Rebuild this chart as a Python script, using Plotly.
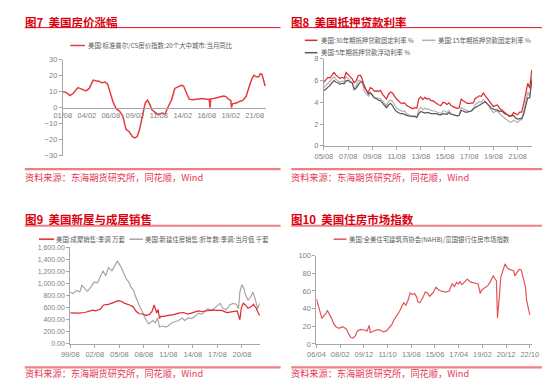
import plotly.graph_objects as go
import pandas as pd

W, H = 550, 379

# ---------------- Panel 1: Case-Shiller 20-city YoY ----------------
cs_dates = ["2001-08", "2001-12", "2002-05", "2002-09", "2003-03", "2003-09", "2004-01", "2004-05",
            "2004-10", "2005-01", "2005-05", "2005-09", "2006-01", "2006-04", "2006-07", "2006-11",
            "2007-03", "2007-07", "2007-11", "2008-03", "2008-07", "2008-11", "2009-02", "2009-05",
            "2009-08", "2009-11", "2010-03", "2010-06", "2010-09", "2010-11", "2011-04", "2011-07",
            "2011-12", "2012-04", "2012-07", "2012-12", "2013-04", "2013-07", "2013-12", "2014-03",
            "2014-06", "2014-10", "2015-02", "2015-08", "2016-02", "2016-08", "2016-11", "2016-12",
            "2017-01", "2017-06", "2018-01", "2018-05", "2018-08", "2018-11", "2019-02", "2019-03",
            "2019-04", "2019-09", "2020-01", "2020-05", "2020-09", "2021-01", "2021-04", "2021-07",
            "2021-10", "2022-01", "2022-03", "2022-05", "2022-07", "2022-09"]
cs_yoy = [10.0, 9.5, 7.5, 9.0, 12.5, 11.0, 10.5, 12.0,
          17.2, 16.8, 16.5, 15.5, 16.0, 14.7, 10.0, 3.3,
          -0.8, -2.2, -5.3, -13.5, -15.0, -18.0, -18.8, -18.0,
          -13.5, -5.3, 2.9, 4.7, 1.8, -1.2, -3.3, -4.3,
          -3.3, -3.9, -0.2, 4.9, 12.0, 12.7, 14.0, 13.5,
          10.0, 5.3, 4.9, 5.3, 5.7, 5.3, 5.3, 0.0,
          5.5, 5.9, 6.5, 7.3, 6.9, 5.3, 4.5, 0.0,
          2.4, 2.9, 3.9, 4.5, 6.9, 13.0, 17.6, 20.2,
          19.2, 19.2, 21.2, 20.8, 17.2, 13.5]
cs_ticks = ["2001-08-01", "2004-02-01", "2006-08-01", "2009-02-01", "2011-08-01",
            "2014-02-01", "2016-08-01", "2019-02-01", "2021-08-01"]

# ---------------- Panel 2: mortgage rates (bi-monthly) ----------------
mort_dates = pd.date_range("2005-08-01", "2022-10-01", freq="2MS")
mort_30y = [5.85, 6.05, 6.3,
            6.25, 6.55, 6.75, 6.5, 6.35, 6.2,
            6.3, 6.2, 6.75, 6.55, 6.4, 6.15,
            5.8, 6.0, 6.45, 6.5, 6.15, 5.4,
            5.1, 4.9, 5.35, 5.25, 5.0, 5.05,
            5.0, 5.1, 4.75, 4.5, 4.3, 4.75,
            4.95, 4.85, 4.55, 4.3, 4.15, 3.95,
            3.9, 3.95, 3.7, 3.6, 3.45, 3.4,
            3.5, 3.45, 4.3, 4.5, 4.25, 4.45,
            4.3, 4.35, 4.15, 4.15, 4.0, 3.85,
            3.75, 3.7, 4.0, 3.95, 3.8, 3.95,
            3.7, 3.6, 3.55, 3.45, 3.5, 4.3,
            4.15, 4.05, 3.9, 3.9, 3.9, 3.95,
            4.35, 4.5, 4.6, 4.55, 4.85, 4.6,
            4.35, 4.15, 3.85, 3.6, 3.7, 3.75,
            3.45, 3.3, 3.15, 2.95, 2.85, 2.7,
            2.8, 3.05, 2.95, 2.85, 3.1, 3.1,
            3.9, 5.0, 5.75, 5.3, 7.0]
mort_15y = [5.35, 5.55, 5.8,
            5.95, 6.15, 6.35, 6.1, 6.0, 5.85,
            5.95, 5.9, 6.35, 6.2, 6.0, 5.8,
            5.3, 5.5, 6.0, 6.0, 5.9, 5.0,
            4.75, 4.55, 4.85, 4.75, 4.4, 4.4,
            4.35, 4.35, 4.15, 3.95, 3.7, 4.1,
            4.2, 4.1, 3.75, 3.45, 3.35, 3.25,
            3.15, 3.2, 2.95, 2.85, 2.7, 2.65,
            2.75, 2.65, 3.3, 3.55, 3.3, 3.45,
            3.35, 3.4, 3.25, 3.2, 3.2, 3.1,
            3.0, 2.95, 3.2, 3.2, 3.05, 3.25,
            2.95, 2.9, 2.8, 2.75, 2.8, 3.5,
            3.4, 3.3, 3.2, 3.15, 3.2, 3.3,
            3.8, 3.95, 4.05, 4.0, 4.25, 4.05,
            3.8, 3.65, 3.3, 3.05, 3.15, 3.2,
            2.95, 2.8, 2.6, 2.45, 2.35, 2.2,
            2.2, 2.35, 2.25, 2.15, 2.35, 2.4,
            3.15, 4.2, 4.95, 4.55, 6.3]
mort_5y = [5.1, 5.2, 5.4,
           5.55, 5.8, 6.0, 5.85, 5.8, 5.65,
           5.75, 5.7, 6.0, 6.0, 5.85, 5.8,
           5.15, 5.3, 5.6, 5.85, 5.85, 5.55,
           5.1, 4.75, 4.9, 4.65, 4.4, 4.35,
           4.2, 4.15, 3.9, 3.75, 3.5, 3.75,
           3.9, 3.7, 3.35, 3.15, 3.05, 2.95,
           2.95, 2.85, 2.8, 2.75, 2.75, 2.7,
           2.7, 2.6, 2.95, 3.15, 3.1, 3.0,
           3.05, 3.05, 2.95, 2.95, 2.95, 2.95,
           2.85, 2.85, 2.95, 2.9, 2.9, 3.05,
           2.9, 2.85, 2.8, 2.75, 2.8, 3.25,
           3.2, 3.1, 3.1, 3.15, 3.2, 3.4,
           3.5, 3.65, 3.75, 3.85, 3.95, 4.05,
           3.85, 3.7, 3.45, 3.35, 3.3, 3.3,
           3.15, 3.2, 3.0, 2.9, 2.85, 2.75,
           2.75, 2.8, 2.55, 2.45, 2.5, 2.5,
           2.9, 3.7, 4.4, 4.4, 6.0]
mort_ticks = ["2005-08-01", "2007-08-01", "2009-08-01", "2011-08-01", "2013-08-01",
              "2015-08-01", "2017-08-01", "2019-08-01", "2021-08-01"]

# ---------------- Panel 3: existing / new home sales ----------------
exist_dates = ["1999-08", "2000-03", "2000-08", "2001-05", "2001-12", "2002-05", "2002-09", "2003-04",
               "2003-09", "2004-04", "2004-12", "2005-06", "2005-10", "2006-04", "2006-11", "2007-04",
               "2007-09", "2008-01", "2008-06", "2008-11", "2009-04", "2009-08", "2009-11", "2010-01",
               "2010-03", "2010-05", "2010-07", "2010-09", "2011-01", "2011-08", "2012-04", "2012-11",
               "2013-06", "2014-01", "2014-08", "2015-04", "2015-10", "2016-06", "2017-01", "2017-07",
               "2018-02", "2018-10", "2019-05", "2020-01", "2020-05", "2020-07", "2020-10", "2021-01",
               "2021-05", "2021-10", "2022-01", "2022-05", "2022-08", "2022-10"]
exist_sales = [514, 505, 511, 520, 537, 560, 548, 575,
               645, 656, 688, 715, 710, 672, 645, 618,
               537, 500, 495, 473, 484, 537, 645, 554,
               511, 570, 420, 457, 457, 473, 484, 511,
               520, 495, 520, 548, 537, 554, 565, 554,
               554, 520, 537, 548, 400, 590, 672, 645,
               590, 618, 656, 591, 511, 471]
new_dates = ["1999-08", "1999-12", "2000-05", "2000-10", "2001-01", "2001-05", "2001-09", "2002-02",
             "2002-07", "2002-12", "2003-04", "2003-08", "2003-12", "2004-04", "2004-09", "2005-02",
             "2005-05", "2005-08", "2005-11", "2006-03", "2006-06", "2006-10", "2007-01", "2007-05",
             "2007-08", "2008-01", "2008-06", "2008-11", "2009-03", "2009-06", "2009-09", "2010-01",
             "2010-04", "2010-07", "2010-11", "2011-04", "2011-08", "2012-01", "2012-06", "2012-11",
             "2013-04", "2013-08", "2014-01", "2014-06", "2014-11", "2015-04", "2015-09", "2016-01",
             "2016-06", "2016-11", "2017-03", "2017-07", "2017-12", "2018-04", "2018-09", "2019-02",
             "2019-07", "2019-12", "2020-03", "2020-05", "2020-08", "2020-11", "2021-01", "2021-05",
             "2021-09", "2021-12", "2022-04", "2022-07", "2022-09", "2022-10"]
new_sales = [860, 833, 887, 860, 968, 914, 871, 941,
             1022, 1011, 1102, 1210, 1129, 1263, 1210, 1317,
             1371, 1317, 1263, 1156, 1075, 1022, 941, 887,
             780, 645, 511, 404, 334, 366, 387, 350,
             430, 280, 296, 280, 301, 350, 366, 387,
             430, 387, 430, 420, 457, 511, 495, 537,
             581, 548, 581, 618, 672, 591, 565, 645,
             672, 656, 581, 860, 979, 914, 817, 726,
             780, 860, 726, 581, 645, 672]
sales_ticks = ["1999-08-01", "2002-08-01", "2005-08-01", "2008-08-01", "2011-08-01",
               "2014-08-01", "2017-08-01", "2020-08-01"]

# ---------------- Panel 4: NAHB housing market index ----------------
nahb_dates = ["2006-04", "2006-06", "2006-08", "2006-09", "2006-11", "2007-01", "2007-02", "2007-04",
              "2007-06", "2007-08", "2007-10", "2008-01", "2008-04", "2008-06", "2008-08", "2008-10",
              "2008-12", "2009-02", "2009-04", "2009-06", "2009-09", "2009-12", "2010-03", "2010-05",
              "2010-06", "2010-09", "2010-12", "2011-03", "2011-06", "2011-09", "2011-12", "2012-02",
              "2012-04", "2012-07", "2012-09", "2012-11", "2013-01", "2013-03", "2013-05", "2013-07",
              "2013-09", "2013-11", "2014-01", "2014-02", "2014-04", "2014-07", "2014-09", "2014-11",
              "2015-01", "2015-04", "2015-06", "2015-07", "2015-10", "2015-12", "2016-02", "2016-04",
              "2016-07", "2016-09", "2016-10", "2016-12", "2017-02", "2017-04", "2017-05", "2017-07",
              "2017-09", "2017-12", "2018-02", "2018-04", "2018-07", "2018-09", "2018-10", "2018-12",
              "2019-01", "2019-03", "2019-05", "2019-07", "2019-09", "2019-10", "2019-12", "2020-01",
              "2020-03", "2020-04", "2020-05", "2020-06", "2020-07", "2020-09", "2020-11", "2021-01",
              "2021-03", "2021-05", "2021-07", "2021-08", "2021-10", "2021-12", "2022-02", "2022-03",
              "2022-05", "2022-06", "2022-07", "2022-08", "2022-10"]
nahb_index = [51, 42, 33, 29, 32, 35, 38, 34,
              29, 23, 19.5, 17.6, 19.5, 18.3, 16.5, 11,
              7.3, 6.6, 9.2, 14.7, 16.5, 15.8, 14.7, 21,
              12.8, 14.7, 15.8, 15.8, 13.6, 14.7, 19, 22,
              27.5, 33, 36.7, 42, 46.6, 44, 49.5, 57.6,
              56, 57, 53, 47.7, 46.6, 53, 58.7, 57.6,
              54, 57.6, 61.3, 64.2, 60.5, 59.8, 58.7, 58.7,
              59.8, 64.2, 67.9, 65, 69.7, 67.9, 70.8, 67.2,
              69.7, 73.4, 70.8, 69.7, 69, 67.9, 67.9, 56.9,
              60.5, 62.4, 64.2, 66, 69.7, 71.6, 77, 75.2,
              71.6, 29.4, 40, 58, 75, 82.6, 90.6, 86.2,
              84.4, 83.7, 82.6, 77, 80.7, 84.4, 83.7, 79,
              69.7, 64.2, 49.5, 44, 33]
nahb_ticks = ["2006-04-01", "2008-02-01", "2009-12-01", "2011-10-01", "2013-08-01",
              "2015-06-01", "2017-04-01", "2019-02-01", "2020-12-01", "2022-10-01"]


def fx(x):
    return x / W


def fy(y):
    return 1 - y / H


AXC = "#A6A6A6"
TICKC = "#7F7F7F"
TICKFONT = dict(family="Liberation Sans, Arial", size=7.5, color=TICKC)
CJK = "Noto Sans CJK SC"
RED_T = "#D9000F"
SRC_C = "#E33A55"
BAR_C = "#EF7F85"

fig = go.Figure()

fig.add_trace(go.Scatter(x=cs_dates, y=cs_yoy, mode="lines", xaxis="x", yaxis="y",
                         line=dict(color="#E33B3F", width=1.5)))
fig.add_trace(go.Scatter(x=mort_dates, y=mort_15y, mode="lines", xaxis="x2", yaxis="y2",
                         line=dict(color="#B2B2B2", width=1.2)))
fig.add_trace(go.Scatter(x=mort_dates, y=mort_5y, mode="lines", xaxis="x2", yaxis="y2",
                         line=dict(color="#595959", width=1.2)))
fig.add_trace(go.Scatter(x=mort_dates, y=mort_30y, mode="lines", xaxis="x2", yaxis="y2",
                         line=dict(color="#E0262C", width=1.2)))
fig.add_trace(go.Scatter(x=new_dates, y=new_sales, mode="lines", xaxis="x3", yaxis="y3",
                         line=dict(color="#A6A6A6", width=1.2)))
fig.add_trace(go.Scatter(x=exist_dates, y=exist_sales, mode="lines", xaxis="x3", yaxis="y3",
                         line=dict(color="#E0262C", width=1.2)))
fig.add_trace(go.Scatter(x=nahb_dates, y=nahb_index, mode="lines", xaxis="x4", yaxis="y4",
                         line=dict(color="#E05555", width=1.2)))

common_x = dict(type="date", tickformat="%y/%m", showgrid=False, zeroline=False, showline=True,
                linecolor=AXC, linewidth=1, tickfont=TICKFONT, tickcolor=AXC)
common_y = dict(showgrid=False, zeroline=False, showline=True, linecolor=AXC, linewidth=1,
                ticks="outside", ticklen=3, tickcolor=AXC, tickfont=TICKFONT)

fig.update_layout(
    width=W, height=379, margin=dict(l=0, r=0, t=0, b=0),
    paper_bgcolor="white", plot_bgcolor="white", showlegend=False,
    xaxis=dict(common_x, domain=[fx(47.3), fx(257)], anchor="free", position=fy(98),
               range=["2001-08-01", "2022-10-05"], tickvals=cs_ticks, ticks=""),
    yaxis=dict(common_y, domain=[fy(147.3), fy(48.7)], anchor="x", range=[-30, 30], dtick=10),
    xaxis2=dict(common_x, domain=[fx(316.7), fx(531.5)], anchor="y2",
                range=["2005-08-01", "2022-10-10"], tickvals=mort_ticks, ticks="outside",
                ticklen=3),
    yaxis2=dict(common_y, domain=[fy(137), fy(48)], anchor="x2", range=[0, 8], dtick=2),
    xaxis3=dict(common_x, domain=[fx(55), fx(250.7)], anchor="y3",
                range=["1999-08-01", "2022-10-15"], tickvals=sales_ticks, ticks="outside",
                ticklen=3),
    yaxis3=dict(common_y, domain=[fy(340), fy(241)], anchor="x3", range=[0, 1600], dtick=200,
                tickformat=",.2f", tickfont=dict(TICKFONT, size=7)),
    xaxis4=dict(common_x, domain=[fx(309), fx(531)], anchor="y4",
                range=["2006-04-01", "2022-11-20"], tickvals=nahb_ticks, ticks="outside",
                ticklen=3),
    yaxis4=dict(common_y, domain=[fy(340), fy(249.5)], anchor="x4", range=[0, 100], dtick=20),
)

shapes = []
annos = []


def hline(x0, x1, y, color, width):
    shapes.append(dict(type="line", xref="paper", yref="paper", x0=fx(x0), x1=fx(x1),
                       y0=fy(y), y1=fy(y), line=dict(color=color, width=width)))


def text(x, y, s, size, color, bold=False, family=CJK):
    annos.append(dict(xref="paper", yref="paper", x=fx(x), y=fy(y), xanchor="left",
                      yanchor="middle", showarrow=False, borderpad=0,
                      text=("<b>%s</b>" % s) if bold else s,
                      font=dict(family=family, size=size, color=color)))


# titles
for (x0, x1, y, s) in [(8, 272, 10, "图7  美国房价涨幅"), (283, 550, 10, "图8  美国抵押贷款利率")]:
    text(x0 - 1, y, s, 11.5, RED_T, bold=True)
    hline(x0, x1, 16, "#E0101E", 1)
for (x0, x1, y, s) in [(8, 272, 212, "图9  美国新屋与成屋销售"), (283, 550, 212, "图10  美国住房市场指数")]:
    text(x0 - 1, y, s, 11.5, RED_T, bold=True)
    hline(x0, x1, 219, BAR_C, 2)

# sources
for (x0, x1, ybar, ytxt) in [(8, 272, 161, 169), (283, 550, 161, 169),
                             (8, 272, 364, 369.5), (283, 550, 364, 369.5)]:
    hline(x0, x1, ybar, BAR_C, 2.2)
    text(x0 - 1, ytxt, "资料来源：东海期货研究所，同花顺，Wind", 9.2, SRC_C)

LEGC = "#595959"
LEGS = 6.4
# legends
hline(55, 70, 34.3, "#E33B3F", 1.5)
text(72, 34.5, "美国:标准普尔/CS房价指数:20个大中城市:当月同比", LEGS, LEGC)

hline(297, 310, 29, "#E0262C", 1.5)
text(312.5, 29.2, "美国:30年期抵押贷款固定利率 %", LEGS, LEGC)
hline(418, 432, 29, "#B2B2B2", 1.5)
text(433.5, 29.2, "美国:15年期抵押贷款固定利率 %", LEGS, LEGC)
hline(297, 310, 41.7, "#595959", 1.5)
text(312.5, 41.9, "美国:5年期抵押贷款浮动利率 %", LEGS, LEGC)

hline(22.7, 38.3, 232.7, "#E0262C", 1.5)
text(39.5, 232.9, "美国:成屋销售:季调 万套", LEGS, LEGC)
hline(116, 130, 232.7, "#A6A6A6", 1.5)
text(131.2, 232.9, "美国:新建住房销售:折年数:季调:当月值 千套", LEGS, LEGC)

hline(326.7, 340, 232.7, "#E05555", 1.5)
text(341.2, 232.9, "美国:全美住宅建筑商协会(NAHB)/富国银行住房市场指数", LEGS, LEGC)

fig.update_layout(shapes=shapes, annotations=annos)
fig.write_html("out.html")
